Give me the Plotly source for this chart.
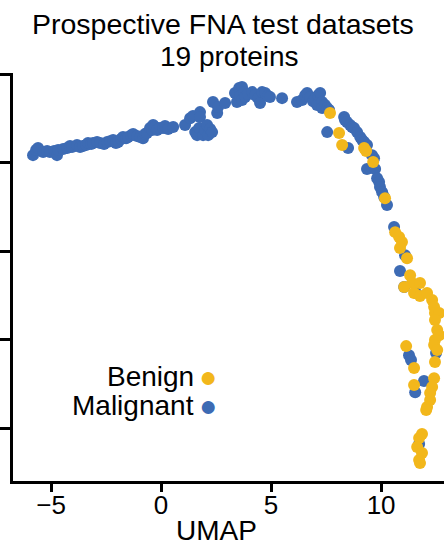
import plotly.graph_objects as go

# Malignant (blue) UMAP coordinates
mal_x = [-5.82, -5.68, -5.59, -5.36, -5.18, -5.05, -4.86, -4.73, -4.68, -4.45, -4.27, -4.14, -4.05,
         -3.82, -3.68, -3.55, -3.41, -3.32, -3.18, -3.09, -2.91, -2.77, -2.59, -2.45, -2.32, -2.18,
         -2.05, -1.95, -1.82, -1.73, -1.59, -1.5, -1.36, -1.27, -1.09, -0.95, -0.82, -0.73, -0.64,
         -0.5, -0.41, -0.36, -0.27, -0.18, -0.05, 0.09, 0.18, 0.32, 0.55, 1.09, 1.32, 1.45, 1.55,
         1.64, 1.73, 1.77, 1.77, 1.91, 2.0, 2.09, 2.14, 2.23, 2.32, 2.36, 2.55, 2.59, 2.91, 3.36,
         3.45, 3.55, 3.59, 3.68, 3.68, 3.77, 3.82, 3.95, 4.14, 4.27, 4.41, 4.5, 4.59, 4.73, 4.86,
         4.95, 5.5, 6.18, 6.41, 6.55, 6.64, 6.77, 6.91, 7.0, 7.09, 7.14, 7.23, 7.32, 7.32, 7.45,
         7.55, 7.64, 7.55, 8.32, 8.36, 8.45, 8.59, 8.68, 8.77, 8.91, 9.05, 9.14, 9.23, 9.36, 8.5,
         9.59, 9.68, 9.36, 9.73, 9.82, 9.91, 9.95, 10.05, 10.14, 10.27, 10.59, 11.09, 10.86, 11.59,
         12.5, 11.27, 11.36, 11.95, 11.55, 11.73, 11.05]
mal_y = [5.42, 5.71, 5.82, 5.59, 5.65, 5.59, 5.65, 5.42, 5.71, 5.76, 5.82, 5.93, 5.88,
         5.99, 5.88, 5.93, 5.99, 6.10, 6.05, 6.10, 6.16, 6.10, 6.05, 6.16, 6.21, 6.27,
         6.10, 6.16, 6.33, 6.44, 6.38, 6.44, 6.55, 6.61, 6.50, 6.44, 6.38, 6.61, 6.67,
         6.95, 6.84, 7.12, 7.01, 6.84, 6.95, 6.95, 7.06, 6.89, 7.01, 7.12, 7.51, 7.63, 6.72,
         6.55, 6.95, 7.85, 7.57, 6.55, 6.84, 7.12, 6.55, 6.89, 6.72, 8.42, 7.80, 8.14, 8.36, 8.93,
         8.42, 9.21, 8.76, 9.27, 8.53, 8.98, 8.70, 8.87, 8.98, 8.81, 8.64, 8.36, 8.98, 8.93, 8.76,
         8.70, 8.64, 8.42, 8.53, 8.81, 8.93, 8.70, 8.47, 8.64, 8.25, 8.81, 8.93, 8.42, 8.08, 8.25,
         8.08, 7.97, 6.72, 7.57, 7.40, 7.29, 7.12, 7.01, 6.95, 6.72, 6.44, 6.27, 6.16, 5.99, 5.82,
         5.42, 5.25, 4.63, 4.63, 4.12, 3.90, 3.62, 3.33, 3.05, 2.60, 1.36, -0.23, -1.13, -2.37,
         -5.76, -5.88, -6.16, -7.34, -7.97, -10.9, -2.03]

# Benign (yellow) UMAP coordinates
ben_x = [7.68, 8.09, 8.23, 9.23, 9.32, 9.64, 10.18, 10.64, 10.82, 10.95, 10.86, 11.18, 11.32,
         11.41, 11.77, 11.05, 11.5, 11.77, 12.09, 12.32, 12.41, 12.45, 12.64, 12.45, 12.55, 12.64,
         12.45, 12.41, 12.55, 12.45, 11.14, 11.5, 12.41, 11.5, 12.32, 12.23, 12.23, 12.09, 12.05,
         11.86, 11.73, 11.64, 11.86, 11.73, 11.77]
ben_y = [7.80, 6.67, 5.99, 5.82, 5.65, 5.03, 2.99, 1.07, 0.79, 0.51, 0.17, -0.40, -1.36,
         -1.81, -1.81, -2.03, -2.37, -2.54, -2.37, -2.77, -3.16, -3.50, -3.50, -3.90, -4.46, -4.75,
         -5.03, -5.31, -5.59, -6.27, -5.37, -6.61, -7.18, -7.57, -7.68, -8.02, -8.42, -8.81, -8.98,
         -10.34, -10.56, -11.07, -11.41, -11.81, -11.98]

x_ticks = [-5, 0, 5, 10]
x_tick_text = ["\u22125", "0", "5", "10"]
y_ticks = [-10, -5, 0, 5, 10]

BLUE = "#3D6BB4"
YELLOW = "#F2B71B"
FONT = "Liberation Sans, Arial, sans-serif"

fig = go.Figure()
fig.add_trace(go.Scatter(x=mal_x, y=mal_y, mode="markers", name="Malignant",
                         marker=dict(color=BLUE, size=12, line=dict(width=0))))
fig.add_trace(go.Scatter(x=ben_x, y=ben_y, mode="markers", name="Benign",
                         marker=dict(color=YELLOW, size=12, line=dict(width=0))))

fig.update_layout(
    width=444, height=544,
    margin=dict(l=13, r=0, t=73, b=63),
    plot_bgcolor="white", paper_bgcolor="white",
    showlegend=False,
    font=dict(family=FONT, color="black"),
    xaxis=dict(range=[-6.73, 12.86], tickvals=x_ticks, ticktext=x_tick_text,
               showgrid=False, zeroline=False, showline=True, linecolor="black", linewidth=3,
               ticks="outside", ticklen=8, tickwidth=3, tickcolor="black",
               tickfont=dict(size=26), automargin=False, ticklabelstandoff=-9),
    yaxis=dict(range=[-12.99, 10.06], tickvals=y_ticks, showticklabels=False,
               showgrid=False, zeroline=False, showline=True, linecolor="black", linewidth=3,
               ticks="outside", ticklen=10, tickwidth=3, tickcolor="black", automargin=False),
)

# Title (two lines)
fig.add_annotation(text="Prospective FNA test datasets", xref="paper", yref="paper",
                   x=(223 - 13) / 431, y=(481 - 24) / 408, xanchor="center", yanchor="middle",
                   showarrow=False, font=dict(size=28.5, family=FONT, color="black"))
fig.add_annotation(text="19 proteins", xref="paper", yref="paper",
                   x=(229 - 13) / 431, y=(481 - 57) / 408, xanchor="center", yanchor="middle",
                   showarrow=False, font=dict(size=28, family=FONT, color="black"))

# Axis title
fig.add_annotation(text="UMAP", xref="paper", yref="paper",
                   x=(216 - 13) / 431, y=(481 - 530) / 408, xanchor="center", yanchor="middle",
                   showarrow=False, font=dict(size=28, family=FONT, color="black"))

# Legend: label right-aligned, coloured dot to its right
legend_items = [("Benign", YELLOW, 376), ("Malignant", BLUE, 405)]
for label, col, ypx in legend_items:
    fig.add_annotation(
        text=label, xref="paper", yref="paper",
        x=(196 - 13) / 431, y=(481 - ypx) / 408,
        xanchor="right", yanchor="middle", showarrow=False,
        font=dict(size=28, family=FONT, color="black"), align="right")
    fig.add_annotation(
        text="\u25CF", xref="paper", yref="paper",
        x=(208 - 13) / 431, y=(481 - ypx) / 408,
        xanchor="center", yanchor="middle", showarrow=False,
        font=dict(size=30, family=FONT, color=col))

fig.write_html("out.html")
